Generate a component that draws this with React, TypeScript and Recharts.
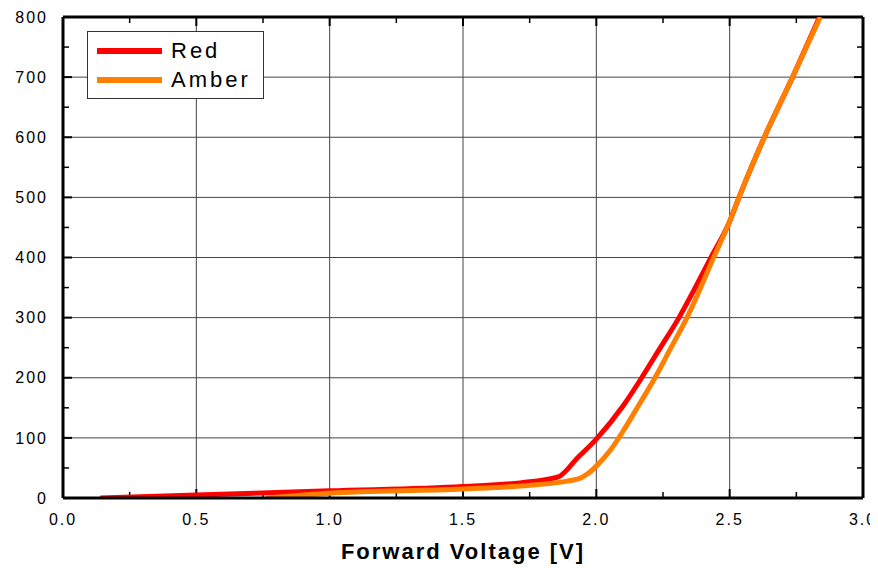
import React from 'react';
import { LineChart, Line, XAxis, YAxis, CartesianGrid, ReferenceLine } from 'recharts';

// forward voltage [V] / current readings
const redVoltage = [0.14, 0.5, 1.0, 1.5, 1.75, 1.857, 1.93, 2.0, 2.1, 2.17, 2.24, 2.31, 2.37, 2.43, 2.5, 2.535, 2.63, 2.736, 2.837];
const redCurrent = [0, 5, 12, 19, 27, 35, 67, 98, 153, 200, 250, 300, 349, 400, 460, 500, 600, 700, 800];
const amberVoltage = [0.76, 1.0, 1.5, 1.75, 1.86, 1.94, 1.97, 2.0, 2.05, 2.1, 2.16, 2.22, 2.28, 2.34, 2.44, 2.5, 2.535, 2.63, 2.736, 2.84];
const amberCurrent = [0, 8, 15, 21, 26, 33, 41, 53, 78, 111, 155, 200, 250, 300, 400, 460, 500, 600, 700, 800];

const xMajor = [0, 0.5, 1, 1.5, 2, 2.5, 3];
const xMinor = [0.25, 0.75, 1.25, 1.75, 2.25, 2.75];
const yMajor = [0, 100, 200, 300, 400, 500, 600, 700, 800];
const yMinor = [50, 150, 250, 350, 450, 550, 650, 750];

const red = redVoltage.map((v, i) => ({ v, i: redCurrent[i] }));
const amber = amberVoltage.map((v, i) => ({ v, i: amberCurrent[i] }));

const font = '"Liberation Sans", Arial, sans-serif';
const tickFont = { fontFamily: font, fontSize: 16, fill: '#000', letterSpacing: 2 };

const series = [
  { name: 'Red', color: '#ff0000' },
  { name: 'Amber', color: '#ff8000' },
];

// plot box is 800 x 480 px; tick length in data units
const vPerPx = 3 / 800;
const iPerPx = 800 / 480;

function LegendBox() {
  return (
    <div style={{ position: 'absolute', left: 79, top: 23, border: '1px solid #333', background: '#fff', padding: '4px 0 4px 9px', fontFamily: font, width: 166 }}>
      {series.map((s) => (
        <div key={s.name} style={{ display: 'flex', alignItems: 'center', height: 29 }}>
          <div style={{ width: 65, height: 6, background: s.color, marginRight: 9 }} />
          <span style={{ fontSize: 22, letterSpacing: 3, color: '#000' }}>{s.name}</span>
        </div>
      ))}
    </div>
  );
}

const frame = { stroke: '#000', strokeWidth: 3 };

function tickMarks() {
  const marks: React.ReactNode[] = [];
  const add = (key: string, a: { x: number; y: number }, b: { x: number; y: number }, w: number) =>
    marks.push(<ReferenceLine key={key} segment={[a, b]} stroke="#000" strokeWidth={w} />);
  xMajor.concat(xMinor).forEach((x) => {
    const len = (xMajor.includes(x) ? 9 : 6) * iPerPx;
    const w = xMajor.includes(x) ? 2 : 1.5;
    add('xb' + x, { x, y: 0 }, { x, y: len }, w);
    add('xt' + x, { x, y: 800 }, { x, y: 800 - len }, w);
  });
  yMajor.concat(yMinor).forEach((y) => {
    const len = (yMajor.includes(y) ? 9 : 6) * vPerPx;
    const w = yMajor.includes(y) ? 2 : 1.5;
    add('yl' + y, { x: 0, y }, { x: len, y }, w);
    add('yr' + y, { x: 3, y }, { x: 3 - len, y }, w);
  });
  return marks;
}

export default function App() {
  return (
    <div style={{ position: 'relative', width: 870, height: 560 }}>
      <LineChart width={870} height={560} margin={{ top: 9, right: 15, left: 10, bottom: 0 }}>
        <CartesianGrid stroke="#444" strokeWidth={1} />
        <XAxis
          dataKey="v"
          type="number"
          domain={[0, 3]}
          ticks={xMajor}
          tickFormatter={(t: number) => t.toFixed(1)}
          tick={tickFont}
          tickLine={false}
          tickSize={0}
          tickMargin={16}
          axisLine={frame}
          height={70}
          allowDataOverflow
          label={{ value: 'Forward Voltage [V]', position: 'insideBottom', offset: 9, style: { fontFamily: font, fontSize: 22, fontWeight: 'bold', letterSpacing: 2, fill: '#000' } }}
        />
        <YAxis
          type="number"
          domain={[0, 800]}
          ticks={yMajor}
          tick={tickFont}
          tickLine={false}
          tickSize={0}
          tickMargin={15}
          axisLine={frame}
          width={45}
          allowDataOverflow
        />
        <ReferenceLine y={800} stroke="#000" strokeWidth={3} />
        <ReferenceLine x={3} stroke="#000" strokeWidth={3} />
        {tickMarks()}
        <Line data={red} dataKey="i" name="Red" type="monotone" stroke="#ff0000" strokeWidth={5} dot={false} isAnimationActive={false} />
        <Line data={amber} dataKey="i" name="Amber" type="monotone" stroke="#ff8000" strokeWidth={5} dot={false} isAnimationActive={false} />
      </LineChart>
      <LegendBox />
    </div>
  );
}
